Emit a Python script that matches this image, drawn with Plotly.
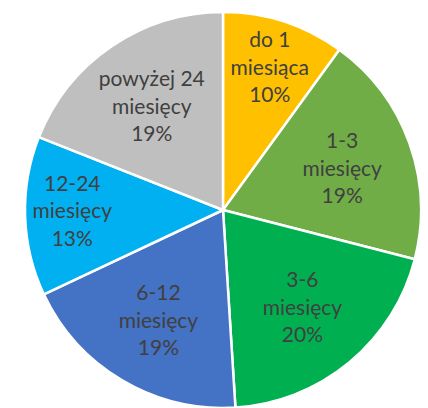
import plotly.graph_objects as go

# okres (kategorie) i udzial procentowy
labels = ["do 1<br>miesiąca", "1-3<br>miesięcy", "3-6<br>miesięcy",
          "6-12<br>miesięcy", "12-24<br>miesięcy", "powyżej 24<br>miesięcy"]
values = [10, 19, 20, 19, 13, 19]
colors = ["#FFC000", "#70AD47", "#00B050", "#4472C4", "#00B0F0", "#BFBFBF"]

fig = go.Figure(go.Pie(
    labels=labels,
    values=values,
    sort=False,
    direction="clockwise",
    rotation=0,
    marker=dict(colors=colors, line=dict(color="white", width=2.5)),
    texttemplate="%{label}<br>%{value}%",
    textposition="inside",
    insidetextorientation="horizontal",
    textfont=dict(family="Lato", size=21, color="#404040"),
    hoverinfo="skip",
))

# strona ma domyslny margines 8px, wiec figura jest mniejsza
fig.update_layout(
    width=420, height=400,
    margin=dict(l=17, r=7, t=4, b=0),
    showlegend=False,
    paper_bgcolor="white",
    uniformtext=dict(minsize=21, mode="show"),
)

fig.write_html("out.html")
